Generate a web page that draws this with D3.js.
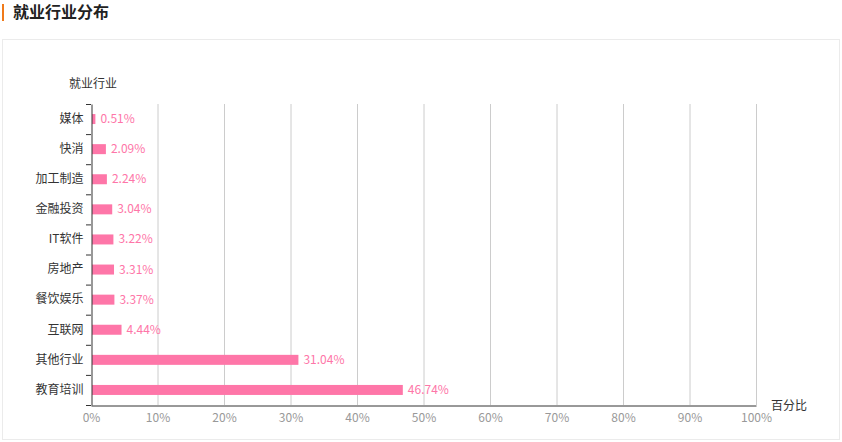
<!DOCTYPE html>
<html lang="zh">
<head>
<meta charset="utf-8" />
<title>就业行业分布</title>
<script src="https://d3js.org/d3.v7.min.js"></script>
<style>
  body { margin: 0; background: #fff; font-family: "Noto Sans CJK SC", "Noto Sans", sans-serif; }
</style>
</head>
<body>
<script>
// data
var industries = ["媒体", "快消", "加工制造", "金融投资", "IT软件", "房地产", "餐饮娱乐", "互联网", "其他行业", "教育培训"];
var shares = [0.51, 2.09, 2.24, 3.04, 3.22, 3.31, 3.37, 4.44, 31.04, 46.74];
var xTicks = [0, 10, 20, 30, 40, 50, 60, 70, 80, 90, 100];

var width = 842, height = 442;
var barColor = "#fe76a8";

var svg = d3.select("body").append("svg")
  .attr("width", width)
  .attr("height", height);

// title block
svg.append("rect").attr("x", 2).attr("y", 4).attr("width", 2).attr("height", 17).attr("fill", "#f07a1a");
svg.append("text").attr("x", 13).attr("y", 18)
  .attr("font-size", 16).attr("font-weight", "bold").attr("fill", "#222")
  .text("就业行业分布");

// panel
svg.append("rect").attr("x", 2.5).attr("y", 39.5).attr("width", 837).attr("height", 400)
  .attr("fill", "none").attr("stroke", "#ebebeb");

var plotLeft = 91, plotRight = 756, plotTop = 104, plotBottom = 405;

var x = d3.scaleLinear().domain([0, 100]).range([plotLeft, plotRight]);
var y = d3.scaleBand().domain(industries).range([plotTop, plotBottom]);

// grid
svg.append("g").selectAll("line")
  .data(xTicks.slice(1))
  .enter().append("line")
  .attr("x1", function (d) { return x(d) + 0.5; })
  .attr("x2", function (d) { return x(d) + 0.5; })
  .attr("y1", plotTop).attr("y2", plotBottom)
  .attr("stroke", "#cccccc");

// bars
svg.append("g").selectAll("rect")
  .data(industries)
  .enter().append("rect")
  .attr("x", x(0) + 1)
  .attr("y", function (d) { return y(d) + y.bandwidth() / 2 - 5; })
  .attr("width", function (d, i) { return x(shares[i]) - x(0); })
  .attr("height", 10)
  .attr("fill", barColor);

// value labels
svg.append("g").selectAll("text")
  .data(industries)
  .enter().append("text")
  .attr("x", function (d, i) { return x(shares[i]) + 6; })
  .attr("y", function (d) { return y(d) + y.bandwidth() / 2 + 4; })
  .attr("font-size", 12)
  .attr("fill", barColor)
  .text(function (d, i) { return shares[i].toFixed(2) + "%"; });

// x axis
var xAxis = svg.append("g")
  .attr("transform", "translate(0," + (plotBottom + 0.5) + ")")
  .call(d3.axisBottom(x).tickValues(xTicks).tickSize(0).tickPadding(8)
    .tickFormat(function (d) { return d + "%"; }));
xAxis.select(".domain").attr("stroke", "#333");
xAxis.selectAll("text").attr("fill", "#999").attr("font-size", 12)
  .attr("font-family", "'Noto Sans CJK SC', sans-serif");

// y axis
var yAxis = svg.append("g")
  .attr("transform", "translate(" + (plotLeft + 0.5) + ",0)")
  .call(d3.axisLeft(y).tickSize(0).tickPadding(8));
yAxis.select(".domain").attr("stroke", "#333");
yAxis.selectAll("text").attr("fill", "#333").attr("font-size", 12)
  .attr("font-family", "'Noto Sans CJK SC', sans-serif");

// band boundary ticks
svg.append("g").selectAll("line")
  .data(d3.range(industries.length + 1))
  .enter().append("line")
  .attr("x1", plotLeft - 5).attr("x2", plotLeft)
  .attr("y1", function (i) { return plotTop + i * y.step() + 0.5; })
  .attr("y2", function (i) { return plotTop + i * y.step() + 0.5; })
  .attr("stroke", "#333");

// axis names
svg.append("text").attr("x", 93).attr("y", 88).attr("text-anchor", "middle")
  .attr("font-size", 12).attr("fill", "#333").text("就业行业");
svg.append("text").attr("x", 771).attr("y", 410)
  .attr("font-size", 12).attr("fill", "#333").text("百分比");
</script>
</body>
</html>
